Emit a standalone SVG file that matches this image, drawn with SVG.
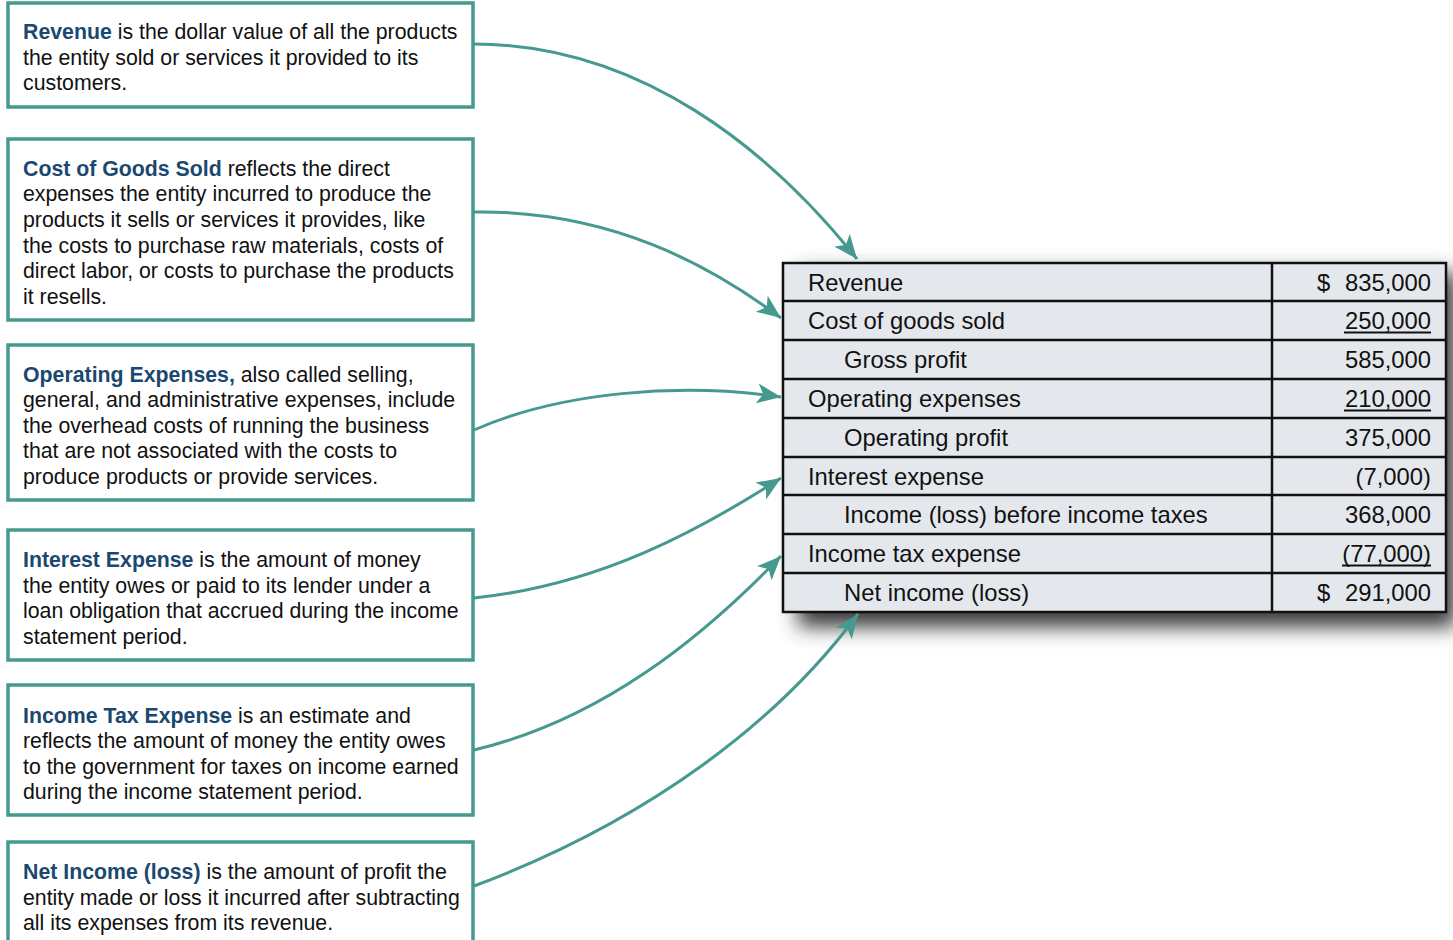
<svg xmlns="http://www.w3.org/2000/svg" width="1453" height="940" viewBox="0 0 1453 940">
<defs>
<style>
.box{fill:#fff;stroke:#45998F;stroke-width:3.5}
.t{font-family:"Liberation Sans",Arial,sans-serif;font-size:21.3px;fill:#111}
.b{font-weight:bold;fill:#1B4870}
.c{fill:none;stroke:#45998F;stroke-width:3}
.tt{font-family:"Liberation Sans",Arial,sans-serif;font-size:23.8px;fill:#111}
.r{text-anchor:end}
.u{stroke:#111;stroke-width:2}
</style>
<marker id="ah" markerUnits="userSpaceOnUse" markerWidth="28" markerHeight="22" refX="24" refY="11" orient="auto">
<path d="M0,1 L24,11 L0,21 L6,11 Z" fill="#45998F"/>
</marker>
<filter id="sh" x="-10%" y="-20%" width="130%" height="150%">
<feGaussianBlur stdDeviation="10"/>
</filter>
</defs>
<rect width="1453" height="940" fill="#fff"/>

<g id="n1">
<rect class="box" x="8" y="3" width="465" height="104"/>
<text class="t" x="23" y="39"><tspan class="b">Revenue</tspan> is the dollar value of all the products</text>
<text class="t" x="23" y="65">the entity sold or services it provided to its</text>
<text class="t" x="23" y="90">customers.</text>
</g>
<g id="n2">
<rect class="box" x="8" y="139" width="465" height="181"/>
<text class="t" x="23" y="176"><tspan class="b">Cost of Goods Sold</tspan> reflects the direct</text>
<text class="t" x="23" y="201">expenses the entity incurred to produce the</text>
<text class="t" x="23" y="227">products it sells or services it provides, like</text>
<text class="t" x="23" y="253">the costs to purchase raw materials, costs of</text>
<text class="t" x="23" y="278">direct labor, or costs to purchase the products</text>
<text class="t" x="23" y="304">it resells.</text>
</g>
<g id="n3">
<rect class="box" x="8" y="345" width="465" height="155"/>
<text class="t" x="23" y="382"><tspan class="b">Operating Expenses,</tspan> also called selling,</text>
<text class="t" x="23" y="407">general, and administrative expenses, include</text>
<text class="t" x="23" y="433">the overhead costs of running the business</text>
<text class="t" x="23" y="458">that are not associated with the costs to</text>
<text class="t" x="23" y="484">produce products or provide services.</text>
</g>
<g id="n4">
<rect class="box" x="8" y="530" width="465" height="130"/>
<text class="t" x="23" y="567"><tspan class="b">Interest Expense</tspan> is the amount of money</text>
<text class="t" x="23" y="593">the entity owes or paid to its lender under a</text>
<text class="t" x="23" y="618">loan obligation that accrued during the income</text>
<text class="t" x="23" y="644">statement period.</text>
</g>
<g id="n5">
<rect class="box" x="8" y="685" width="465" height="130"/>
<text class="t" x="23" y="723"><tspan class="b">Income Tax Expense</tspan> is an estimate and</text>
<text class="t" x="23" y="748">reflects the amount of money the entity owes</text>
<text class="t" x="23" y="774">to the government for taxes on income earned</text>
<text class="t" x="23" y="799">during the income statement period.</text>
</g>
<g id="n6">
<rect class="box" x="8" y="842" width="465" height="120"/>
<text class="t" x="23" y="879"><tspan class="b">Net Income (loss)</tspan> is the amount of profit the</text>
<text class="t" x="23" y="905">entity made or loss it incurred after subtracting</text>
<text class="t" x="23" y="930">all its expenses from its revenue.</text>
</g>

<g id="table">
<rect x="798" y="272" width="658" height="355" fill="#3a3a3a" filter="url(#sh)"/>
<rect x="783" y="263" width="663" height="349" fill="#E4E8ED"/>
<g fill="none" stroke="#111" stroke-width="2.5">
<rect x="783" y="263" width="663" height="349"/>
<line x1="1272" y1="263" x2="1272" y2="612"/>
<line x1="783" y1="301" x2="1446" y2="301"/>
<line x1="783" y1="340" x2="1446" y2="340"/>
<line x1="783" y1="379" x2="1446" y2="379"/>
<line x1="783" y1="418" x2="1446" y2="418"/>
<line x1="783" y1="457" x2="1446" y2="457"/>
<line x1="783" y1="495" x2="1446" y2="495"/>
<line x1="783" y1="534" x2="1446" y2="534"/>
<line x1="783" y1="573" x2="1446" y2="573"/>
</g>
<text class="tt" x="808" y="291">Revenue</text>
<text class="tt" x="808" y="329">Cost of goods sold</text>
<text class="tt" x="844" y="368">Gross profit</text>
<text class="tt" x="808" y="407">Operating expenses</text>
<text class="tt" x="844" y="446">Operating profit</text>
<text class="tt" x="808" y="485">Interest expense</text>
<text class="tt" x="844" y="523">Income (loss) before income taxes</text>
<text class="tt" x="808" y="562">Income tax expense</text>
<text class="tt" x="844" y="601">Net income (loss)</text>
<text class="tt" x="1317" y="291">$</text>
<text class="tt r" x="1431" y="291">835,000</text>
<text class="tt r" x="1431" y="329">250,000</text>
<line class="u" x1="1344" y1="332.5" x2="1431" y2="332.5"/>
<text class="tt r" x="1431" y="368">585,000</text>
<text class="tt r" x="1431" y="407">210,000</text>
<line class="u" x1="1344" y1="410.5" x2="1431" y2="410.5"/>
<text class="tt r" x="1431" y="446">375,000</text>
<text class="tt r" x="1431" y="485">(7,000)</text>
<text class="tt r" x="1431" y="523">368,000</text>
<text class="tt r" x="1431" y="562">(77,000)</text>
<line class="u" x1="1342" y1="565.5" x2="1431" y2="565.5"/>
<text class="tt" x="1317" y="601">$</text>
<text class="tt r" x="1431" y="601">291,000</text>
</g>

<g id="connectors">
<path class="c" marker-end="url(#ah)" d="M474,44 C640,44 770,150 857,259"/>
<path class="c" marker-end="url(#ah)" d="M474,212 C610,210 710,265 781,318"/>
<path class="c" marker-end="url(#ah)" d="M474,430 C560,392 680,382 781,397"/>
<path class="c" marker-end="url(#ah)" d="M474,598 C600,585 700,530 781,478"/>
<path class="c" marker-end="url(#ah)" d="M474,750 C600,720 700,640 781,556"/>
<path class="c" marker-end="url(#ah)" d="M474,886 C650,820 780,720 858,614"/>
</g>
</svg>
